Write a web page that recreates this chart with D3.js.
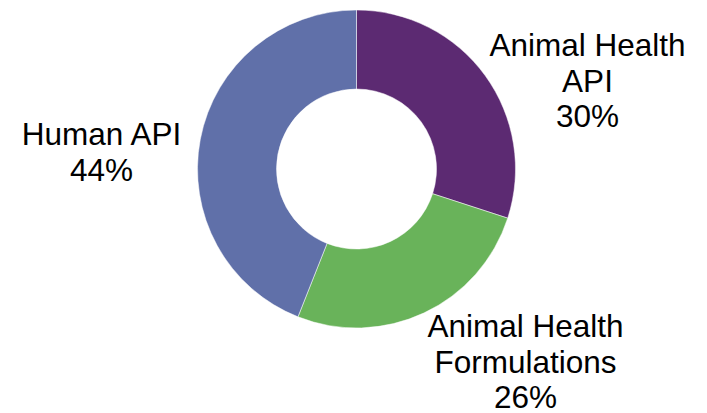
<!DOCTYPE html>
<html>
<head>
<meta charset="utf-8">
<script src="https://cdn.jsdelivr.net/npm/d3@7"></script>
<style>
  html, body { margin: 0; padding: 0; background: #fff; }
  svg { display: block; }
  text { font-family: "Liberation Sans", Arial, sans-serif; fill: #000; }
</style>
</head>
<body>
<svg id="chart" width="707" height="413"></svg>
<script>
const categories = ["Animal Health API", "Animal Health Formulations", "Human API"];
const labelLines = [["Animal Health", "API"], ["Animal Health", "Formulations"], ["Human API"]];
const values = [30, 26, 44];
const colors = ["#5c2a72", "#69b35a", "#6070a9"];

// layout (pixels) for label blocks: center x and first-line baseline y
const labelLayout = [
  { x: 587.5, y: 56 },
  { x: 525.5, y: 337 },
  { x: 101.5, y: 145 }
];
const lineStep = 35.5;
const fontSize = 31.5;

const cx = 356.5, cy = 169, outerR = 159, innerR = 80;

const svg = d3.select("#chart");
const g = svg.append("g").attr("transform", `translate(${cx},${cy})`);

const total = d3.sum(values);
const pie = d3.pie().sort(null).value(d => d.value);
const arc = d3.arc().innerRadius(innerR).outerRadius(outerR);

const data = categories.map((c, i) => ({ name: c, value: values[i], color: colors[i], lines: labelLines[i] }));

g.selectAll("path.slice")
  .data(pie(data))
  .join("path")
  .attr("class", "slice")
  .attr("d", arc)
  .attr("fill", d => d.data.color)
  .attr("stroke", "#fff")
  .attr("stroke-width", 0.5);

const labels = svg.selectAll("text.label")
  .data(data)
  .join("text")
  .attr("class", "label")
  .attr("text-anchor", "middle")
  .attr("font-size", fontSize);

labels.each(function(d, i) {
  const t = d3.select(this);
  const pos = labelLayout[i];
  const lines = d.lines.concat([Math.round(d.value / total * 100) + "%"]);
  lines.forEach((ln, j) => {
    t.append("tspan").attr("x", pos.x).attr("y", pos.y + j * lineStep).text(ln);
  });
});
</script>
</body>
</html>
